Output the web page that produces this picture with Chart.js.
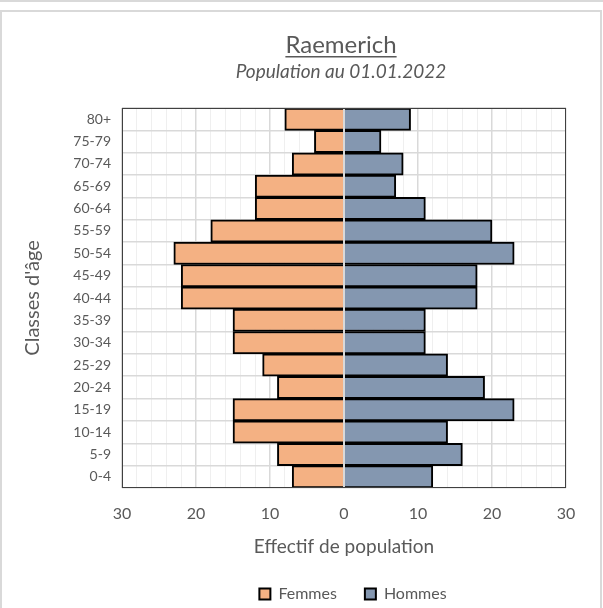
<!DOCTYPE html>
<html>
<head>
<meta charset="utf-8">
<title>Raemerich</title>
<script src="https://cdn.jsdelivr.net/npm/chart.js@4.4.1/dist/chart.umd.min.js"></script>
<style>
    html, body { margin: 0; padding: 0; background: #fff; }
    #topLine { position: absolute; left: 0; top: 0; width: 603px; height: 2px; background: #d9d9d9; }
    #frame { position: absolute; left: 0; top: 10px; width: 602px; height: 610px; border: 2px solid #d9d9d9; box-sizing: border-box; }
    #wrap { position: absolute; left: 0; top: 0; width: 603px; height: 608px; }
</style>
</head>
<body>
<div id="topLine"></div>
<div id="frame"></div>
<div id="wrap"><canvas id="pyramid"></canvas></div>
<script>
// age classes, bottom to top
const ageClasses = ['0-4', '5-9', '10-14', '15-19', '20-24', '25-29', '30-34', '35-39',
    '40-44', '45-49', '50-54', '55-59', '60-64', '65-69', '70-74', '75-79', '80+'];
const femmes = [7, 9, 15, 15, 9, 11, 15, 15, 22, 22, 23, 18, 12, 12, 7, 4, 8];
const hommes = [12, 16, 14, 23, 19, 14, 11, 11, 18, 18, 23, 20, 11, 7, 8, 5, 9];
const xMin = -30;
const xMax = 30;

const titleText = 'Raemerich';
const subtitleText = 'Population au 01.01.2022';

const textGrey = '#595959';
const fontName = 'Lato, Carlito, "Open Sans", sans-serif';

// titles, frame of the plot and zero line
const decoPlugin = {
    id: 'deco',
    afterLayout(chart) {
        // move the legend under the plot centre
        const lg = chart.legend;
        const a = chart.chartArea;
        const dx = (a.left + a.right) / 2 + 9 - (lg.left + lg.right) / 2;
        lg.left += dx;
        lg.right += dx;
    },
    afterDatasetsDraw(chart) {
        const ctx = chart.ctx;
        const a = chart.chartArea;
        const x0 = chart.scales.x.getPixelForValue(0);
        ctx.save();
        ctx.strokeStyle = '#d9d9d9';
        ctx.lineWidth = 2;
        ctx.beginPath();
        ctx.moveTo(x0, a.top);
        ctx.lineTo(x0, a.bottom);
        ctx.stroke();
        ctx.strokeStyle = '#404040';
        ctx.lineWidth = 1;
        ctx.strokeRect(a.left + 0.5, a.top + 0.5, a.right - a.left - 1, a.bottom - a.top - 1);
        ctx.restore();
    },
    afterDraw(chart) {
        const ctx = chart.ctx;
        const a = chart.chartArea;
        const cx = (a.left + a.right) / 2 - 3;
        ctx.save();
        ctx.fillStyle = textGrey;
        ctx.textAlign = 'center';
        ctx.textBaseline = 'alphabetic';
        ctx.font = '24px ' + fontName;
        ctx.fillText(titleText, cx, 53);
        const w = ctx.measureText(titleText).width;
        ctx.fillRect(cx - w / 2, 56, w, 1.5);
        ctx.font = 'italic 19px ' + fontName;
        ctx.fillText(subtitleText, cx, 78);
        ctx.restore();
    }
};

const ctxPyr = document.getElementById('pyramid').getContext('2d');
const chartPyr = new Chart(ctxPyr, {
    type: 'bar',
    data: {
        labels: ageClasses,
        datasets: [{
            label: 'Femmes',
            data: femmes.map(v => -v),
            backgroundColor: '#f4b183',
            borderColor: '#000000',
            borderWidth: 2,
            barPercentage: 1,
            categoryPercentage: 1
        }, {
            label: 'Hommes',
            data: hommes,
            backgroundColor: '#8497b0',
            borderColor: '#000000',
            borderWidth: 2,
            barPercentage: 1,
            categoryPercentage: 1
        }]
    },
    options: {
        indexAxis: 'y',
        responsive: true,
        maintainAspectRatio: false,
        animation: false,
        devicePixelRatio: 1,
        layout: {
            padding: { top: 108, right: 37, bottom: -4, left: 0 }
        },
        scales: {
            x: {
                stacked: true,
                min: xMin,
                max: xMax,
                border: { display: false },
                afterFit: scale => { scale.height = 70; },
                grid: {
                    drawTicks: false,
                    color: c => (c.tick && c.tick.value % 10 === 0) ? '#d9d9d9' : '#efefef',
                    lineWidth: c => (c.tick && c.tick.value % 10 === 0) ? 1.5 : 1
                },
                ticks: {
                    stepSize: 2,
                    autoSkip: false,
                    maxRotation: 0,
                    padding: 16,
                    color: textGrey,
                    font: { family: fontName, size: 16 },
                    callback: v => (v % 10 === 0 ? Math.abs(v) : '')
                },
                title: {
                    display: true,
                    text: 'Effectif de population',
                    color: textGrey,
                    font: { family: fontName, size: 19 },
                    padding: { top: 14, bottom: 0 }
                }
            },
            y: {
                stacked: true,
                reverse: true,
                border: { display: false },
                grid: {
                    drawTicks: false,
                    color: '#d9d9d9',
                    lineWidth: 1.5
                },
                afterFit: scale => { scale.width = 122; },
                ticks: {
                    padding: 11,
                    color: textGrey,
                    font: { family: fontName, size: 14 }
                },
                title: {
                    display: true,
                    text: 'Classes d\'âge',
                    color: textGrey,
                    font: { family: fontName, size: 20 },
                    padding: { top: 21, bottom: 0 }
                }
            }
        },
        plugins: {
            legend: {
                display: true,
                position: 'bottom',
                labels: {
                    boxWidth: 11,
                    boxHeight: 11,
                    padding: 28,
                    color: textGrey,
                    font: { family: fontName, size: 16 }
                }
            },
            tooltip: { enabled: false }
        }
    },
    plugins: [decoPlugin]
});
</script>
</body>
</html>
